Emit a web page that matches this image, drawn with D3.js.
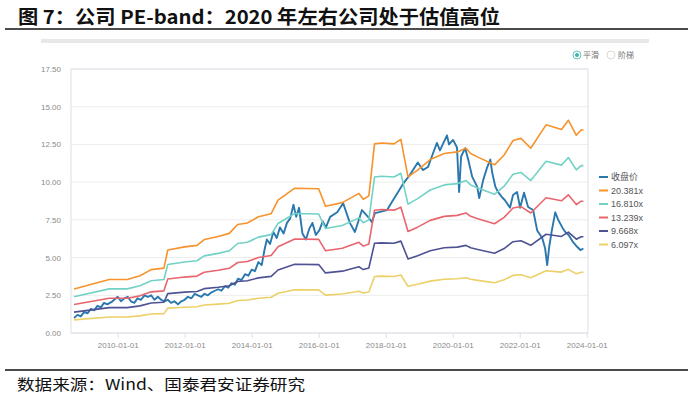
<!DOCTYPE html>
<html>
<head>
<meta charset="utf-8">
<script src="https://cdn.jsdelivr.net/npm/d3@7"></script>
<style>
  body { margin: 0; background: #fff; }
  svg { display: block; }
</style>
</head>
<body>
<div id="chart"></div>
<script>
// data
var seriesNames = ["收盘价", "20.381x", "16.810x", "13.239x", "9.668x", "6.097x"];
var multiples = [20.381, 16.810, 13.239, 9.668, 6.097];
var seriesColors = ["#2a78ae", "#f7922c", "#72d2c6", "#e8656d", "#4e5294", "#ecd068"];

var yTicks = [0, 2.5, 5, 7.5, 10, 12.5, 15, 17.5];

// eps used for the bands (band = multiple * eps)
var epsDates = ["2008-09-12","2009-10-01","2010-04-15","2010-09-01","2011-01-01","2011-05-20","2011-07-01",
  "2012-01-01","2012-05-15","2012-08-01","2013-01-01","2013-05-01","2013-08-01","2013-11-15","2014-03-15",
  "2014-08-01","2014-10-15","2015-04-15","2016-01-01","2016-03-15","2016-09-15","2017-03-15","2017-05-01",
  "2017-07-01","2017-09-01","2017-11-15","2018-04-01","2018-06-15","2018-09-01","2018-12-15","2019-05-01",
  "2019-10-01","2020-02-20","2020-05-25","2020-07-15","2020-10-01","2021-04-01","2021-07-15","2021-10-20",
  "2022-01-15","2022-05-01","2022-10-15","2023-04-01","2023-06-15","2023-09-10","2023-11-01","2023-11-26"];
var epsValues = [0.143,0.174,0.174,0.186,0.206,0.211,0.270,
  0.280,0.285,0.304,0.314,0.324,0.353,0.358,0.378,
  0.388,0.432,0.471,0.469,0.412,0.424,0.454,0.435,
  0.446,0.615,0.618,0.615,0.630,0.508,0.530,0.564,
  0.584,0.589,0.601,0.584,0.572,0.547,0.579,0.626,
  0.633,0.601,0.677,0.662,0.692,0.643,0.660,0.660];

// close price
var priceDates = ["2008-09-12","2008-10-20","2008-11-25","2009-01-01","2009-02-05","2009-03-15","2009-04-20",
  "2009-05-25","2009-07-01","2009-08-05","2009-09-10","2009-11-05","2010-01-01","2010-02-05","2010-03-15",
  "2010-04-20","2010-05-25","2010-07-01","2010-08-05","2010-09-10","2010-10-20","2010-11-25","2011-01-01",
  "2011-02-05","2011-03-15","2011-04-20","2011-05-25","2011-07-01","2011-08-05","2011-09-10","2011-10-20",
  "2011-11-25","2012-01-01","2012-02-05","2012-03-15","2012-04-20","2012-05-25","2012-07-01","2012-08-05",
  "2012-09-10","2012-10-20","2012-11-25","2013-01-01","2013-02-05","2013-03-15","2013-04-20","2013-05-25",
  "2013-07-01","2013-08-05","2013-09-10","2013-10-20","2013-11-25","2014-01-01","2014-02-05","2014-03-15",
  "2014-04-20","2014-05-20","2014-06-15","2014-07-20","2014-08-25","2014-10-01","2014-11-05","2014-12-15",
  "2015-01-20","2015-02-25","2015-04-01","2015-05-01","2015-06-01","2015-07-08","2015-08-15","2015-09-20",
  "2015-10-25","2015-12-01","2016-01-08","2016-02-15","2016-03-20","2016-05-05","2016-07-21","2016-09-24",
  "2016-12-06","2017-01-30","2017-04-17","2017-06-22","2017-08-04","2017-09-06","2018-01-16","2018-03-11",
  "2018-05-16","2018-07-10","2018-09-24","2018-11-15","2018-12-17","2019-02-10","2019-04-06","2019-05-31",
  "2019-07-13","2019-08-15","2019-10-31","2019-11-22","2020-01-05","2020-02-17","2020-03-11","2020-04-02",
  "2020-05-16","2020-06-18","2020-08-01","2020-09-24","2020-10-16","2020-11-29","2021-01-12","2021-02-14",
  "2021-03-08","2021-04-10","2021-05-09","2021-06-22","2021-07-24","2021-09-17","2021-10-20","2021-12-03",
  "2022-01-05","2022-02-17","2022-04-02","2022-05-27","2022-07-10","2022-09-03","2022-10-05","2022-10-27",
  "2022-11-18","2022-12-17","2023-01-23","2023-02-25","2023-04-10","2023-05-12","2023-06-18","2023-08-08",
  "2023-09-21","2023-10-24","2023-11-26"];
var priceValues = [1.0,1.2,1.1,1.4,1.3,1.6,1.5,
  1.8,1.7,2.0,1.9,2.1,2.4,2.1,2.3,
  2.4,2.1,2.0,2.3,2.2,2.5,2.4,2.5,
  2.2,2.4,2.2,2.1,2.2,2.0,2.1,1.9,
  2.1,2.2,2.4,2.3,2.6,2.5,2.4,2.6,
  2.5,2.7,2.8,2.9,2.8,3.1,3.0,3.3,
  3.2,3.6,3.5,3.9,3.8,4.2,4.1,4.7,
  4.5,5.5,6.2,5.9,6.7,6.3,7.0,6.6,
  7.3,7.6,8.5,7.7,8.3,6.6,6.2,6.9,
  7.3,6.5,6.8,7.4,7.0,7.7,8.0,8.6,
  7.3,6.7,8.15,7.7,7.35,7.95,8.15,8.7,
  9.35,9.9,10.5,11.0,11.3,10.8,11.0,11.9,
  12.6,12.1,13.1,12.5,12.8,12.3,9.35,11.7,
  12.25,11.5,10.35,9.7,8.95,10.15,11.0,11.5,
  10.6,9.7,9.35,9.0,8.8,8.3,9.15,9.35,
  8.3,9.3,8.35,8.15,6.8,6.3,5.6,4.5,
  5.7,6.8,8.0,7.5,7.0,6.7,6.5,6.0,
  5.7,5.5,5.6];

// layout
var width = 693, height = 397;
var plotLeft = 71, plotRight = 588, plotTop = 69, plotBottom = 333;
var axisColor = "#dcdfe8", gridColor = "#ececec", labelColor = "#8a8a8a";
var tickFont = "'Liberation Sans Narrow', 'Liberation Sans', sans-serif";
var cjkFont = "'Noto Sans CJK SC', sans-serif";

var parseDate = d3.timeParse("%Y-%m-%d");

var svg = d3.select("#chart").append("svg")
  .attr("width", width)
  .attr("height", height);

// title
svg.append("text")
  .attr("x", 18)
  .attr("y", 24)
  .attr("textLength", 482)
  .attr("lengthAdjust", "spacingAndGlyphs")
  .style("font-family", cjkFont)
  .style("font-size", "19px")
  .style("font-weight", "bold")
  .style("fill", "#111")
  .text("图 7：公司 PE-band：2020 年左右公司处于估值高位");

svg.append("line")
  .attr("x1", 5).attr("x2", 688)
  .attr("y1", 29).attr("y2", 29)
  .style("stroke", "#111").style("stroke-width", 1.5);

// grey bar of the screenshot
svg.append("rect")
  .attr("x", 41).attr("y", 39)
  .attr("width", 608).attr("height", 4)
  .style("fill", "#e8e8e8");

// radio toggles
svg.append("circle").attr("cx", 577).attr("cy", 55).attr("r", 4)
  .style("fill", "#fff").style("stroke", "#3fb6ad").style("stroke-width", 0.8);
svg.append("circle").attr("cx", 577).attr("cy", 55).attr("r", 2)
  .style("fill", "#3fb6ad");
svg.append("circle").attr("cx", 611).attr("cy", 55).attr("r", 4)
  .style("fill", "#fff").style("stroke", "#cfcfcf").style("stroke-width", 0.8);
svg.append("text").attr("x", 583).attr("y", 58)
  .style("font-family", cjkFont).style("font-size", "8px").style("fill", "#777")
  .text("平滑");
svg.append("text").attr("x", 618).attr("y", 58)
  .style("font-family", cjkFont).style("font-size", "8px").style("fill", "#777")
  .text("阶梯");

// scales
var x = d3.scaleTime()
  .domain([parseDate("2010-01-01"), parseDate("2024-01-01")])
  .range([117.7, 586.7]);

var y = d3.scaleLinear()
  .domain([0, 17.5])
  .range([plotBottom, plotTop]);

// grid
svg.append("g").selectAll("line")
  .data(yTicks)
  .join("line")
  .attr("x1", plotLeft).attr("x2", plotRight)
  .attr("y1", function(d) { return y(d); })
  .attr("y2", function(d) { return y(d); })
  .style("stroke", gridColor).style("stroke-width", 1);

// plot box
svg.append("rect")
  .attr("x", plotLeft).attr("y", plotTop)
  .attr("width", plotRight - plotLeft).attr("height", plotBottom - plotTop)
  .style("fill", "none").style("stroke", axisColor).style("stroke-width", 1);

// y axis
var yAxis = svg.append("g")
  .attr("transform", "translate(" + (plotLeft - 4) + ",0)")
  .call(d3.axisLeft(y).tickValues(yTicks).tickFormat(d3.format(".2f")).tickSize(0).tickPadding(6));
yAxis.select(".domain").remove();
yAxis.selectAll("text")
  .style("font-family", tickFont).style("font-size", "8px").style("fill", labelColor);

// x axis
var xAxis = svg.append("g")
  .attr("transform", "translate(0," + plotBottom + ")")
  .call(d3.axisBottom(x).ticks(d3.timeYear.every(2)).tickFormat(d3.timeFormat("%Y-%m-%d")).tickSize(5).tickPadding(4));
xAxis.select(".domain").remove();
xAxis.selectAll("line").style("stroke", axisColor);
xAxis.selectAll("text")
  .style("font-family", tickFont).style("font-size", "8px").style("fill", labelColor);

// series
var priceData = priceDates.map(function(d, i) { return { date: parseDate(d), value: priceValues[i] }; });
var epsData = epsDates.map(function(d, i) { return { date: parseDate(d), eps: epsValues[i] }; });

var line = d3.line()
  .x(function(d) { return x(d.date); })
  .y(function(d) { return y(d.value); });

svg.append("path")
  .datum(priceData)
  .attr("d", line)
  .style("fill", "none")
  .style("stroke", seriesColors[0])
  .style("stroke-width", 1.9)
  .style("stroke-linejoin", "round");

multiples.forEach(function(m, k) {
  var band = epsData.map(function(d) { return { date: d.date, value: m * d.eps }; });
  svg.append("path")
    .datum(band)
    .attr("d", line)
    .style("fill", "none")
    .style("stroke", seriesColors[k + 1])
    .style("stroke-width", 1.6)
    .style("stroke-linejoin", "round");
});

// legend
var legend = svg.append("g").selectAll("g")
  .data(seriesNames)
  .join("g")
  .attr("transform", function(d, i) { return "translate(599," + (177 + i * 13.5) + ")"; });
legend.append("line")
  .attr("x1", 0).attr("x2", 9)
  .style("stroke", function(d, i) { return seriesColors[i]; })
  .style("stroke-width", 2);
legend.append("text")
  .attr("x", 12).attr("y", 3)
  .style("font-family", function(d, i) { return i === 0 ? cjkFont : tickFont; })
  .style("font-size", "9px")
  .style("fill", "#555")
  .text(function(d) { return d; });

// source
svg.append("line")
  .attr("x1", 5).attr("x2", 688)
  .attr("y1", 370).attr("y2", 370)
  .style("stroke", "#111").style("stroke-width", 1.5);

svg.append("text")
  .attr("x", 17)
  .attr("y", 390)
  .attr("textLength", 288)
  .attr("lengthAdjust", "spacingAndGlyphs")
  .style("font-family", cjkFont)
  .style("font-size", "15px")
  .style("fill", "#111")
  .text("数据来源：Wind、国泰君安证券研究");
</script>
</body>
</html>
